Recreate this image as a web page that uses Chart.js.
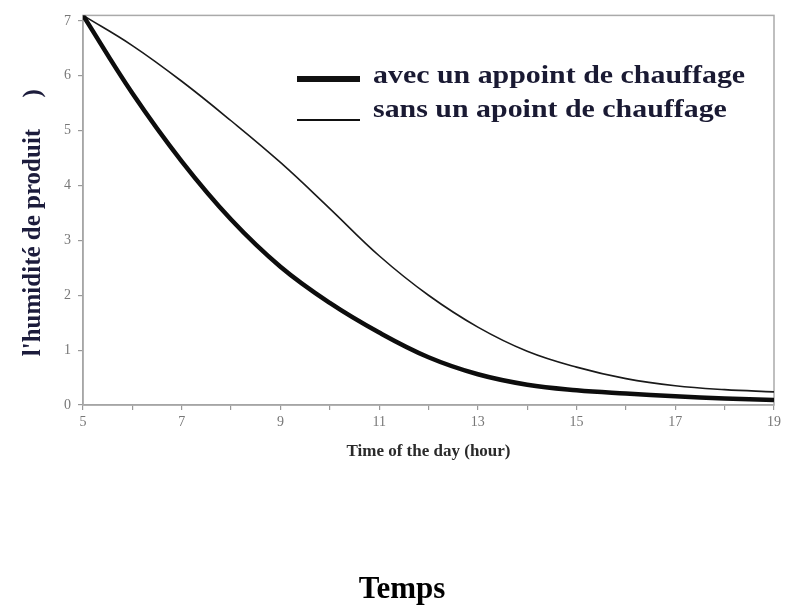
<!DOCTYPE html>
<html>
<head>
<meta charset="utf-8">
<script src="https://cdn.jsdelivr.net/npm/chart.js@4.4.1/dist/chart.umd.min.js"></script>
<style>
  html, body { margin: 0; padding: 0; background: #fff; }
  #wrap { position: relative; width: 787px; height: 605px; overflow: hidden; }
  #chart { position: absolute; left: 0; top: 0; }
  .leg-line { position: absolute; left: 297px; width: 63px; background: #111; }
  .leg-text { position: absolute; left: 373px; font-family: 'Liberation Serif', serif; font-weight: bold;
              font-size: 26px; line-height: 26px; color: #1a1a33; white-space: nowrap;
              transform: scaleX(1.15); transform-origin: 0 0; }
  #temps { position: absolute; left: 302px; width: 200px; top: 570px; text-align: center;
           font-family: 'Liberation Serif', serif; font-weight: bold; font-size: 31px; line-height: 36px; color: #000; }
</style>
</head>
<body>
<div id="wrap">
  <canvas id="chart" width="787" height="605"></canvas>
  <div id="legend"></div>
  <div id="temps">Temps</div>
</div>
<script>
// ---- data ----
const hours = [5, 6, 7, 8, 9, 10, 11, 12, 13, 14, 15, 16, 17, 18, 19];
const avecValues = [7.1, 5.68, 4.44, 3.38, 2.52, 1.86, 1.32, 0.87, 0.56, 0.37, 0.27, 0.21, 0.16, 0.12, 0.09];
const sansValues = [7.1, 6.55, 5.9, 5.18, 4.42, 3.58, 2.72, 2.0, 1.42, 0.98, 0.69, 0.48, 0.35, 0.28, 0.24];
const seriesLabels = ['avec un appoint de chauffage', 'sans un apoint de chauffage'];
const xLabelHours = [5, 7, 9, 11, 13, 15, 17, 19];
const xAxisTitle = 'Time of the day (hour)';
const yAxisTitle = "l'humidité de produit     )    ";
const bottomTitle = 'Temps';

document.getElementById('temps').textContent = bottomTitle;

const seriesStyles = [
  { width: 4.5, color: '#0d0d0d', legendTop: 76, legendH: 6, textTop: 62 },
  { width: 1.6, color: '#1a1a1a', legendTop: 119, legendH: 1.6, textTop: 96 }
];

// HTML legend built from the series labels
const legendDiv = document.getElementById('legend');
seriesLabels.forEach((lab, i) => {
  const st = seriesStyles[i];
  const ln = document.createElement('div');
  ln.className = 'leg-line';
  ln.style.top = st.legendTop + 'px';
  ln.style.height = st.legendH + 'px';
  legendDiv.appendChild(ln);
  const tx = document.createElement('div');
  tx.className = 'leg-text';
  tx.style.top = st.textTop + 'px';
  tx.textContent = lab;
  legendDiv.appendChild(tx);
});

const frame = {
  id: 'frame',
  beforeDatasetsDraw(chart) {
    const { ctx, chartArea: a } = chart;
    ctx.save();
    ctx.strokeStyle = '#aaaaaa';
    ctx.lineWidth = 1.5;
    ctx.strokeRect(a.left, a.top, a.right - a.left, a.bottom - a.top);
    ctx.restore();
  }
};

Chart.defaults.font.family = "'Liberation Serif', serif";

new Chart(document.getElementById('chart'), {
  type: 'line',
  data: {
    datasets: [avecValues, sansValues].map((vals, i) => ({
      label: seriesLabels[i],
      data: hours.map((h, j) => ({ x: h, y: vals[j] })),
      borderColor: seriesStyles[i].color,
      borderWidth: seriesStyles[i].width,
      pointRadius: 0,
      tension: 0.4,
      fill: false
    }))
  },
  options: {
    responsive: false,
    animation: false,
    layout: { padding: { left: 0, right: 13, top: 15, bottom: 0 } },
    plugins: { legend: { display: false }, tooltip: { enabled: false }, title: { display: false } },
    scales: {
      x: {
        type: 'linear',
        min: 5, max: 19,
        afterFit(s) { s.height = 200; },
        grid: { display: true, drawOnChartArea: false, drawTicks: true, tickLength: 5, color: '#999999', lineWidth: 1.2 },
        border: { display: true, color: '#999999', width: 1.5 },
        ticks: {
          stepSize: 1, autoSkip: false, maxRotation: 0, padding: 4,
          color: '#777777', font: { size: 14 },
          callback: (v) => xLabelHours.includes(v) ? String(v) : ''
        },
        title: {
          display: true, text: xAxisTitle, color: '#2a2a2a',
          font: { size: 17, weight: 'bold' }, padding: { top: 0, bottom: 143 }
        }
      },
      y: {
        min: 0, max: 7.1,
        afterFit(s) { s.width = 83; },
        grid: { display: true, drawOnChartArea: false, drawTicks: true, tickLength: 5, color: '#999999', lineWidth: 1.2 },
        border: { display: true, color: '#999999', width: 1.5 },
        ticks: { stepSize: 1, includeBounds: false, padding: 7, color: '#777777', font: { size: 14 } },
        title: {
          display: true, text: yAxisTitle, color: '#1c1c3c',
          font: { size: 25, weight: 'bold' }, padding: { top: 19, bottom: 0 }
        }
      }
    }
  },
  plugins: [frame]
});
</script>
</body>
</html>
